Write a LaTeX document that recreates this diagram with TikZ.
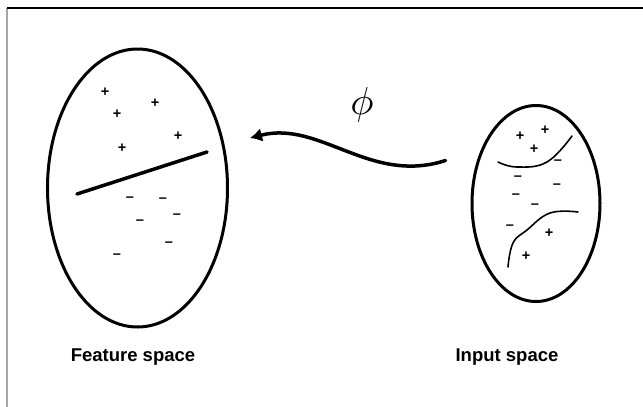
\documentclass[tikz,border=0pt]{standalone}
\usepackage{fontspec}
\setmainfont{Liberation Sans}
\usetikzlibrary{arrows.meta,shapes.geometric}
\tikzset{
  space/.style={draw,ellipse,line width=3pt,inner sep=0pt},
  sign/.style={font=\bfseries\fontsize{14.5}{15}\selectfont,inner sep=0pt},
  caption/.style={font=\bfseries\fontsize{18.5}{20}\selectfont}
}

\begin{document}
\begin{tikzpicture}[x=1pt,y=-1pt,>={Latex[length=12pt,width=14pt]}]
\useasboundingbox(0,0)rectangle(643,407);
\draw[gray!70,line width=1.2pt](7,407)--(7,8);
\draw[line width=1.2pt](7,8)--(643,8);
% the two spaces
\node[space,minimum width=180pt,minimum height=278pt](feat)at(137.5,188){};
\node[space,minimum width=128pt,minimum height=196pt](inp)at(536,203.5){};
\node[caption](featlab)at(133,357){Feature space};
\node[caption](inplab)at(507,357){Input space};
% feature space: linear separator
\draw[line width=3.5pt,line cap=round](77,194)--(207,152);
\foreach \x/\y [count=\i] in {105/92,155/103,117/114,178/136,122/148}
  \node[sign](fp\i)at(\x,\y){+};
\foreach \x/\y [count=\i] in {130/199,163/200,177/216,140/222,169/244,117/256}
  \node[sign](fm\i)at(\x,\y){--};
% input space: curved boundaries
\draw[line width=1.6pt,line cap=round]plot[smooth,tension=.7]coordinates{(498,162)(517,167)(547,162)(572,136)};
\draw[line width=1.6pt,line cap=round]plot[smooth,tension=.7]coordinates{(578,212)(550,213)(527,230)(513,243)(508,267)};
\foreach \x/\y [count=\i] in {520/136,545/130,534/149,549/233,526/256}
  \node[sign](ip\i)at(\x,\y){+};
\foreach \x/\y [count=\i] in {558/162,518/178,557/186,516/196,535/206,510/227}
  \node[sign](im\i)at(\x,\y){--};
% the map phi
\coordinate(mapstart)at([shift={(-25,-43)}]inp.west);
\coordinate(mapend)at([shift={(21,-50)}]feat.east);
\draw[->,line width=3.5pt,line cap=round](mapstart)..controls(370,185)and(320,120)..(mapend);
\node[scale=3.9](phi)at(362,105){$\phi$};
\end{tikzpicture}
\end{document}
